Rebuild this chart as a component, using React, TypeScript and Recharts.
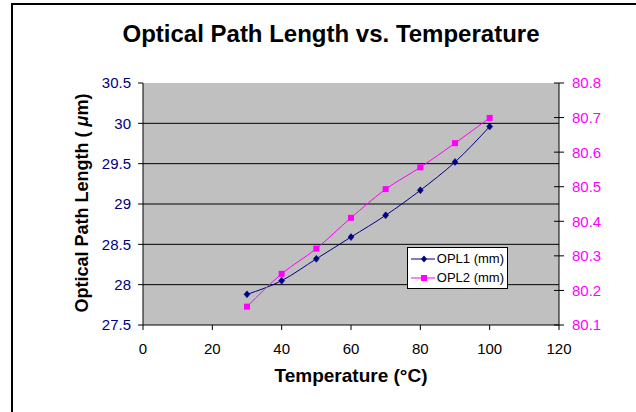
import { LineChart, Line, XAxis, YAxis, CartesianGrid, Legend } from "recharts"

const temps = [30, 40, 50, 60, 70, 80, 90, 100]
const opl1 = [27.88, 28.05, 28.32, 28.59, 28.86, 29.17, 29.52, 29.96]
const opl2 = [80.153, 80.248, 80.321, 80.41, 80.493, 80.556, 80.626, 80.699]

const xTicks = [0, 20, 40, 60, 80, 100, 120]
const leftTicks = [27.5, 28, 28.5, 29, 29.5, 30, 30.5]
const rightTicks = [80.1, 80.2, 80.3, 80.4, 80.5, 80.6, 80.7, 80.8]
const gridValues = [28, 28.5, 29, 29.5, 30]

const NAVY = "#000080"
const MAGENTA = "#FF00FF"
const FONT = "'Liberation Sans', Arial, sans-serif"

const data = temps.map((t, i) => ({ temp: t, opl1: opl1[i], opl2: opl2[i] }))

const Diamond = (props: any) => {
  const { cx, cy } = props
  if (cx == null || cy == null) return null
  return <path d={`M${cx},${cy - 3.5}L${cx + 3},${cy}L${cx},${cy + 3.5}L${cx - 3},${cy}Z`} fill={NAVY} stroke={NAVY} strokeWidth={0.5}/>
}

const Square = (props: any) => {
  const { cx, cy } = props
  if (cx == null || cy == null) return null
  return <rect x={cx - 3} y={cy - 3} width={6} height={6} fill={MAGENTA}/>
}

const RightTick = (props: any) => {
  const { x, y, payload } = props
  return (
    <g>
      <line x1={x - 18} x2={x - 8} y1={y} y2={y} stroke="#000"/>
      <text x={x} y={y} dy="0.36em" fill={MAGENTA} fontSize={15} fontFamily={FONT}>
        {Number(payload.value).toFixed(1)}
      </text>
    </g>
  )
}

const renderLegend = (props: any) => (
  <div style={{ background: "#fff", border: "1px solid #000", padding: "1px 3px 1px 3px", fontFamily: FONT, fontSize: 13, whiteSpace: "nowrap" }}>
    {props.payload.map((e: any, i: number) => (
      <div key={i} style={{ display: "flex", alignItems: "center", height: 19 }}>
        <svg width={26} height={10} style={{ marginRight: 2 }}>
          <line x1={0} x2={26} y1={5} y2={5} stroke={e.color}/>
          {i === 0
            ? <path d="M13,1.5L16,5L13,8.5L10,5Z" fill={NAVY}/>
            : <rect x={10} y={2} width={6} height={6} fill={MAGENTA}/>}
        </svg>
        <span style={{ color: "#000" }}>{e.value}</span>
      </div>
    ))}
  </div>
)

export default function App() {
  return (
    <div style={{ position: "absolute", left: 0, top: 0, width: 636, height: 412, overflow: "hidden", background: "#fff", fontFamily: FONT }}>
      <div style={{ position: "absolute", left: 11, top: 3, width: 700, height: 500, borderTop: "2px solid #000", borderLeft: "2px solid #000", boxSizing: "border-box" }}/>
      <div style={{ position: "absolute", left: 0, width: 662, top: 20, textAlign: "center", fontSize: 24, fontWeight: "bold", color: "#000" }}>
        Optical Path Length vs. Temperature
      </div>
      <div style={{ position: "absolute", left: 351 - 150, width: 300, top: 365, textAlign: "center", fontSize: 19, fontWeight: "bold", color: "#000" }}>
        Temperature (°C)
      </div>
      <div style={{ position: "absolute", left: 82 - 150, top: 203 - 12, width: 300, height: 24, lineHeight: "24px", textAlign: "center", fontSize: 18, fontWeight: "bold", color: "#000", transform: "rotate(-90deg)", whiteSpace: "nowrap" }}>
        Optical Path Length ( <i>μ</i>m)
      </div>
      <div style={{ position: "absolute", left: 0, top: 0 }}>
        <LineChart width={636} height={412} data={data} margin={{ top: 83, right: 0, bottom: 0, left: 0 }}>
          <CartesianGrid yAxisId="left" vertical={false} horizontalValues={gridValues} stroke="#000" fill="#C0C0C0" fillOpacity={1}/>
          <XAxis
            dataKey="temp"
            type="number"
            domain={[0, 120]}
            ticks={xTicks}
            height={87}
            tickSize={5}
            tickMargin={13}
            stroke="#000"
            tick={{ fill: "#000", fontSize: 15, fontFamily: FONT }}
          />
          <YAxis
            yAxisId="left"
            orientation="left"
            domain={[27.5, 30.5]}
            ticks={leftTicks}
            width={143}
            tickSize={5}
            tickMargin={7}
            stroke="#000"
            tick={{ fill: NAVY, fontSize: 15, fontFamily: FONT }}
          />
          <YAxis
            yAxisId="right"
            orientation="right"
            domain={[80.1, 80.8]}
            ticks={rightTicks}
            width={77}
            tickSize={5}
            tickMargin={8}
            tickLine={false}
            stroke="#000"
            tick={<RightTick/>}
          />
          <Legend
            layout="vertical"
            align="center"
            verticalAlign="middle"
            content={renderLegend}
            wrapperStyle={{ left: 407, top: 247, width: 101 }}
          />
          <Line yAxisId="left" type="monotone" dataKey="opl1" name="OPL1 (mm)" stroke={NAVY} strokeWidth={1} dot={<Diamond/>} activeDot={false} isAnimationActive={false}/>
          <Line yAxisId="right" type="monotone" dataKey="opl2" name="OPL2 (mm)" stroke={MAGENTA} strokeWidth={1} dot={<Square/>} activeDot={false} isAnimationActive={false}/>
        </LineChart>
      </div>
    </div>
  )
}
